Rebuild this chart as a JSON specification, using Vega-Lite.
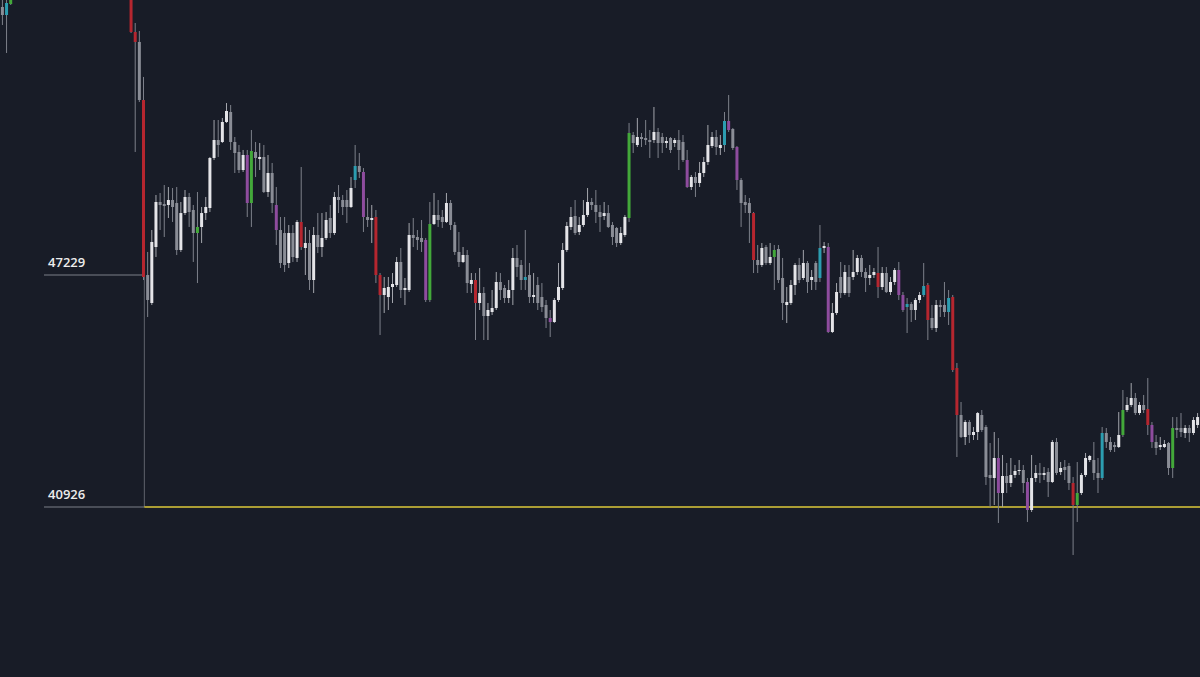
{
"$schema":"https://vega.github.io/schema/vega-lite/v6.json",
"width":1200,"height":677,"autosize":{"type":"fit","contains":"padding"},"padding":0,
"background":"#181c27",
"config":{"view":{"stroke":null}},
"datasets":{
"candles":[
{"i":1,"o":54511,"h":54750,"l":54022,"c":54293,"k":"g"},
{"i":2,"o":54293,"h":54760,"l":53261,"c":54619,"k":"t"},
{"i":3,"o":54592,"h":54900,"l":54565,"c":54840,"k":"gr"},
{"i":32,"o":55110,"h":55250,"l":53804,"c":53832,"k":"r"},
{"i":33,"o":53832,"h":54076,"l":50572,"c":53561,"k":"r"},
{"i":34,"o":53561,"h":53859,"l":51930,"c":51984,"k":"g"},
{"i":35,"o":51984,"h":52610,"l":47093,"c":47175,"k":"r"},
{"i":36,"o":47229,"h":47855,"l":46088,"c":46550,"k":"g"},
{"i":37,"o":46468,"h":48452,"l":46414,"c":48126,"k":"w"},
{"i":38,"o":47990,"h":49403,"l":47719,"c":49213,"k":"w"},
{"i":39,"o":49213,"h":49457,"l":48452,"c":49131,"k":"g"},
{"i":40,"o":49158,"h":49674,"l":48262,"c":49104,"k":"g"},
{"i":41,"o":49131,"h":49620,"l":48778,"c":49267,"k":"w"},
{"i":42,"o":49267,"h":49593,"l":48670,"c":49077,"k":"g"},
{"i":43,"o":49185,"h":49620,"l":47773,"c":47909,"k":"g"},
{"i":44,"o":47909,"h":49213,"l":47855,"c":48913,"k":"w"},
{"i":45,"o":48913,"h":49539,"l":48859,"c":49349,"k":"w"},
{"i":46,"o":49349,"h":49457,"l":48534,"c":48940,"k":"g"},
{"i":47,"o":48995,"h":49131,"l":47583,"c":48370,"k":"g"},
{"i":48,"o":48370,"h":49484,"l":47011,"c":48534,"k":"gr"},
{"i":49,"o":48534,"h":49077,"l":48098,"c":48913,"k":"w"},
{"i":50,"o":48913,"h":49349,"l":48724,"c":49077,"k":"w"},
{"i":51,"o":49050,"h":50436,"l":48940,"c":50409,"k":"w"},
{"i":52,"o":50409,"h":51441,"l":50354,"c":50897,"k":"w"},
{"i":53,"o":50897,"h":51441,"l":50436,"c":50761,"k":"g"},
{"i":54,"o":50843,"h":51495,"l":50815,"c":51387,"k":"w"},
{"i":55,"o":51387,"h":51902,"l":51360,"c":51685,"k":"w"},
{"i":56,"o":51658,"h":51848,"l":50626,"c":50843,"k":"g"},
{"i":57,"o":50843,"h":50979,"l":50000,"c":50544,"k":"g"},
{"i":58,"o":50572,"h":50761,"l":50000,"c":50082,"k":"g"},
{"i":59,"o":50082,"h":50626,"l":50028,"c":50490,"k":"w"},
{"i":60,"o":50490,"h":50626,"l":48805,"c":49185,"k":"p"},
{"i":61,"o":49185,"h":51169,"l":48534,"c":50599,"k":"gr"},
{"i":62,"o":50572,"h":50843,"l":49892,"c":50409,"k":"g"},
{"i":63,"o":50381,"h":50815,"l":50082,"c":50436,"k":"w"},
{"i":64,"o":50436,"h":50761,"l":49457,"c":49484,"k":"g"},
{"i":65,"o":49484,"h":50490,"l":49349,"c":50000,"k":"w"},
{"i":66,"o":50000,"h":50273,"l":48913,"c":49185,"k":"g"},
{"i":67,"o":49131,"h":49620,"l":48044,"c":48452,"k":"p"},
{"i":68,"o":48452,"h":48805,"l":47419,"c":47555,"k":"g"},
{"i":69,"o":48370,"h":48805,"l":47311,"c":47501,"k":"g"},
{"i":70,"o":47555,"h":48588,"l":47419,"c":48370,"k":"w"},
{"i":71,"o":48370,"h":48588,"l":47583,"c":47719,"k":"g"},
{"i":72,"o":47692,"h":48724,"l":47583,"c":48670,"k":"w"},
{"i":73,"o":48670,"h":50163,"l":47909,"c":47990,"k":"r"},
{"i":74,"o":47963,"h":48534,"l":47229,"c":48098,"k":"w"},
{"i":75,"o":48098,"h":48452,"l":46822,"c":47093,"k":"g"},
{"i":76,"o":47093,"h":48534,"l":46740,"c":48316,"k":"w"},
{"i":77,"o":48316,"h":48913,"l":47827,"c":47990,"k":"g"},
{"i":78,"o":47990,"h":48913,"l":47719,"c":48235,"k":"w"},
{"i":79,"o":48235,"h":48940,"l":48180,"c":48724,"k":"w"},
{"i":80,"o":48778,"h":49131,"l":48235,"c":48370,"k":"g"},
{"i":81,"o":48370,"h":49484,"l":48316,"c":49349,"k":"w"},
{"i":82,"o":49349,"h":49674,"l":48913,"c":49267,"k":"g"},
{"i":83,"o":49267,"h":49403,"l":48859,"c":49077,"k":"g"},
{"i":84,"o":49267,"h":49539,"l":48642,"c":49077,"k":"g"},
{"i":85,"o":49077,"h":49892,"l":49050,"c":49593,"k":"w"},
{"i":86,"o":49810,"h":50761,"l":49593,"c":50191,"k":"t"},
{"i":87,"o":50191,"h":50544,"l":49865,"c":50028,"k":"g"},
{"i":88,"o":50028,"h":50136,"l":48398,"c":48805,"k":"p"},
{"i":89,"o":48805,"h":49321,"l":48534,"c":48724,"k":"g"},
{"i":90,"o":48724,"h":49131,"l":48098,"c":48778,"k":"w"},
{"i":91,"o":48805,"h":48995,"l":47011,"c":47229,"k":"r"},
{"i":92,"o":47229,"h":47283,"l":45599,"c":46686,"k":"r"},
{"i":93,"o":46686,"h":47175,"l":46197,"c":46876,"k":"w"},
{"i":94,"o":46631,"h":47175,"l":46278,"c":46903,"k":"w"},
{"i":95,"o":46903,"h":47283,"l":46468,"c":46985,"k":"w"},
{"i":96,"o":46958,"h":47719,"l":46903,"c":47583,"k":"w"},
{"i":97,"o":47583,"h":47963,"l":46604,"c":46822,"k":"g"},
{"i":98,"o":46822,"h":47148,"l":46414,"c":46876,"k":"w"},
{"i":99,"o":46822,"h":48642,"l":46767,"c":48316,"k":"w"},
{"i":100,"o":48316,"h":48778,"l":47990,"c":48235,"k":"g"},
{"i":101,"o":48262,"h":48452,"l":47909,"c":48180,"k":"g"},
{"i":102,"o":48235,"h":48724,"l":47855,"c":48126,"k":"g"},
{"i":103,"o":48180,"h":48235,"l":46495,"c":46550,"k":"p"},
{"i":104,"o":46550,"h":49213,"l":46495,"c":48615,"k":"gr"},
{"i":105,"o":48615,"h":49457,"l":48588,"c":48859,"k":"w"},
{"i":106,"o":48859,"h":49267,"l":48534,"c":48724,"k":"g"},
{"i":107,"o":48805,"h":48995,"l":48507,"c":48670,"k":"g"},
{"i":108,"o":48670,"h":49457,"l":48642,"c":49185,"k":"w"},
{"i":109,"o":49185,"h":49267,"l":48452,"c":48588,"k":"g"},
{"i":110,"o":48588,"h":48670,"l":47773,"c":47855,"k":"g"},
{"i":111,"o":47855,"h":48398,"l":47447,"c":47583,"k":"g"},
{"i":112,"o":47583,"h":47990,"l":47555,"c":47773,"k":"w"},
{"i":113,"o":47773,"h":47909,"l":46740,"c":47011,"k":"g"},
{"i":114,"o":46985,"h":47283,"l":46740,"c":47093,"k":"w"},
{"i":115,"o":47093,"h":47283,"l":45463,"c":46468,"k":"r"},
{"i":116,"o":46468,"h":47419,"l":46278,"c":46740,"k":"w"},
{"i":117,"o":46740,"h":46903,"l":45463,"c":46115,"k":"g"},
{"i":118,"o":46115,"h":46468,"l":45463,"c":46278,"k":"w"},
{"i":119,"o":46224,"h":46822,"l":46143,"c":46332,"k":"w"},
{"i":120,"o":46332,"h":47311,"l":46278,"c":47039,"k":"w"},
{"i":121,"o":47039,"h":47283,"l":46550,"c":46822,"k":"g"},
{"i":122,"o":46876,"h":46958,"l":46468,"c":46604,"k":"g"},
{"i":123,"o":46604,"h":47093,"l":46468,"c":46822,"k":"w"},
{"i":124,"o":46822,"h":47963,"l":46414,"c":47692,"k":"w"},
{"i":125,"o":47692,"h":48044,"l":47175,"c":47447,"k":"g"},
{"i":126,"o":47501,"h":47637,"l":46822,"c":47093,"k":"g"},
{"i":127,"o":47093,"h":48452,"l":46822,"c":47175,"k":"t"},
{"i":128,"o":47229,"h":47555,"l":46468,"c":46631,"k":"g"},
{"i":129,"o":46631,"h":47283,"l":46468,"c":46686,"k":"w"},
{"i":130,"o":46958,"h":47175,"l":46278,"c":46468,"k":"g"},
{"i":131,"o":46631,"h":47011,"l":46224,"c":46360,"k":"g"},
{"i":132,"o":46414,"h":46550,"l":45789,"c":46061,"k":"g"},
{"i":133,"o":46061,"h":46278,"l":45545,"c":45952,"k":"p"},
{"i":134,"o":45952,"h":46604,"l":45925,"c":46550,"k":"w"},
{"i":135,"o":46550,"h":47555,"l":46495,"c":46903,"k":"w"},
{"i":136,"o":46876,"h":48098,"l":46822,"c":47909,"k":"w"},
{"i":137,"o":47909,"h":48670,"l":47855,"c":48561,"k":"w"},
{"i":138,"o":48534,"h":49077,"l":48452,"c":48805,"k":"w"},
{"i":139,"o":48832,"h":49267,"l":48316,"c":48370,"k":"g"},
{"i":140,"o":48398,"h":48805,"l":48316,"c":48588,"k":"w"},
{"i":141,"o":48588,"h":49267,"l":48534,"c":48859,"k":"w"},
{"i":142,"o":48859,"h":49593,"l":48805,"c":49213,"k":"w"},
{"i":143,"o":49213,"h":49321,"l":48995,"c":49131,"k":"g"},
{"i":144,"o":49131,"h":49539,"l":48642,"c":48940,"k":"g"},
{"i":145,"o":48940,"h":49131,"l":48398,"c":48805,"k":"g"},
{"i":146,"o":48832,"h":49213,"l":48724,"c":48913,"k":"w"},
{"i":147,"o":48913,"h":49131,"l":48507,"c":48534,"k":"g"},
{"i":148,"o":48588,"h":48670,"l":48044,"c":48262,"k":"g"},
{"i":149,"o":48507,"h":48534,"l":47990,"c":48098,"k":"g"},
{"i":150,"o":48098,"h":48534,"l":48044,"c":48370,"k":"w"},
{"i":151,"o":48316,"h":48859,"l":48262,"c":48805,"k":"w"},
{"i":152,"o":48778,"h":51360,"l":48670,"c":51087,"k":"gr"},
{"i":153,"o":51033,"h":51115,"l":50544,"c":50815,"k":"g"},
{"i":154,"o":50761,"h":51495,"l":50707,"c":50979,"k":"w"},
{"i":155,"o":50979,"h":51087,"l":50707,"c":50924,"k":"g"},
{"i":156,"o":50951,"h":51441,"l":50761,"c":50897,"k":"g"},
{"i":157,"o":50897,"h":51169,"l":50409,"c":50843,"k":"g"},
{"i":158,"o":50897,"h":51794,"l":50815,"c":51115,"k":"w"},
{"i":159,"o":51115,"h":51224,"l":50409,"c":50815,"k":"g"},
{"i":160,"o":50979,"h":51087,"l":50544,"c":50815,"k":"g"},
{"i":161,"o":50815,"h":50979,"l":50680,"c":50870,"k":"w"},
{"i":162,"o":50951,"h":50979,"l":50544,"c":50626,"k":"g"},
{"i":163,"o":50815,"h":50951,"l":50707,"c":50897,"k":"w"},
{"i":164,"o":50897,"h":51169,"l":50082,"c":50626,"k":"g"},
{"i":165,"o":50843,"h":51033,"l":50300,"c":50354,"k":"g"},
{"i":166,"o":50354,"h":50626,"l":49593,"c":49620,"k":"p"},
{"i":167,"o":49620,"h":49946,"l":49539,"c":49892,"k":"w"},
{"i":168,"o":49892,"h":50028,"l":49349,"c":49729,"k":"g"},
{"i":169,"o":49729,"h":50300,"l":49620,"c":50000,"k":"w"},
{"i":170,"o":50000,"h":50436,"l":49892,"c":50300,"k":"w"},
{"i":171,"o":50300,"h":51305,"l":50218,"c":50761,"k":"w"},
{"i":172,"o":50734,"h":51115,"l":50680,"c":50979,"k":"w"},
{"i":173,"o":50979,"h":51169,"l":50490,"c":50707,"k":"g"},
{"i":174,"o":50680,"h":51033,"l":50490,"c":50761,"k":"w"},
{"i":175,"o":50761,"h":51658,"l":50572,"c":51414,"k":"t"},
{"i":176,"o":51414,"h":52120,"l":51115,"c":51169,"k":"p"},
{"i":177,"o":51196,"h":51224,"l":50626,"c":50680,"k":"g"},
{"i":178,"o":50707,"h":50734,"l":49539,"c":49810,"k":"p"},
{"i":179,"o":49810,"h":49865,"l":48534,"c":49185,"k":"g"},
{"i":180,"o":49213,"h":49403,"l":48913,"c":49131,"k":"g"},
{"i":181,"o":49185,"h":49321,"l":48098,"c":48913,"k":"g"},
{"i":182,"o":48913,"h":48940,"l":47283,"c":47637,"k":"r"},
{"i":183,"o":47637,"h":48044,"l":47283,"c":47501,"k":"g"},
{"i":184,"o":47501,"h":48098,"l":47447,"c":47963,"k":"w"},
{"i":185,"o":47990,"h":48044,"l":47501,"c":47555,"k":"g"},
{"i":186,"o":47555,"h":48098,"l":47501,"c":47719,"k":"w"},
{"i":187,"o":47719,"h":48044,"l":46822,"c":47909,"k":"gr"},
{"i":188,"o":47936,"h":48044,"l":47011,"c":47093,"k":"g"},
{"i":189,"o":47148,"h":47692,"l":46007,"c":46468,"k":"g"},
{"i":190,"o":46414,"h":46903,"l":45925,"c":46495,"k":"w"},
{"i":191,"o":46468,"h":47093,"l":46414,"c":46958,"k":"w"},
{"i":192,"o":46958,"h":47555,"l":46686,"c":47501,"k":"w"},
{"i":193,"o":47501,"h":47692,"l":47011,"c":47093,"k":"g"},
{"i":194,"o":47148,"h":47909,"l":47093,"c":47555,"k":"w"},
{"i":195,"o":47555,"h":47610,"l":46740,"c":47039,"k":"g"},
{"i":196,"o":47093,"h":47365,"l":46822,"c":47175,"k":"w"},
{"i":197,"o":47555,"h":47610,"l":46822,"c":47039,"k":"g"},
{"i":198,"o":47148,"h":48588,"l":47039,"c":47963,"k":"t"},
{"i":199,"o":47963,"h":48126,"l":47827,"c":48017,"k":"w"},
{"i":200,"o":47990,"h":48098,"l":45653,"c":45680,"k":"p"},
{"i":201,"o":45680,"h":46468,"l":45653,"c":46197,"k":"w"},
{"i":202,"o":46197,"h":47011,"l":46143,"c":46767,"k":"w"},
{"i":203,"o":47175,"h":47583,"l":46604,"c":46740,"k":"g"},
{"i":204,"o":46740,"h":47501,"l":46686,"c":47311,"k":"w"},
{"i":205,"o":47175,"h":47501,"l":46631,"c":46740,"k":"g"},
{"i":206,"o":47175,"h":47909,"l":47093,"c":47311,"k":"w"},
{"i":207,"o":47311,"h":47773,"l":47229,"c":47692,"k":"w"},
{"i":208,"o":47692,"h":47773,"l":47175,"c":47311,"k":"g"},
{"i":209,"o":47311,"h":47419,"l":46767,"c":47148,"k":"g"},
{"i":210,"o":47148,"h":47501,"l":46958,"c":47229,"k":"w"},
{"i":211,"o":47229,"h":47419,"l":47148,"c":47311,"k":"w"},
{"i":212,"o":47283,"h":47990,"l":46604,"c":46903,"k":"r"},
{"i":213,"o":46903,"h":47447,"l":46822,"c":47283,"k":"w"},
{"i":214,"o":47283,"h":47447,"l":46740,"c":46767,"k":"g"},
{"i":215,"o":46767,"h":47175,"l":46686,"c":47039,"k":"w"},
{"i":216,"o":47039,"h":47419,"l":46958,"c":47365,"k":"w"},
{"i":217,"o":47365,"h":47583,"l":46550,"c":46686,"k":"p"},
{"i":218,"o":46686,"h":46767,"l":46224,"c":46278,"k":"p"},
{"i":219,"o":46360,"h":46604,"l":45653,"c":46441,"k":"t"},
{"i":220,"o":46441,"h":46495,"l":45952,"c":46278,"k":"g"},
{"i":221,"o":46278,"h":46604,"l":46007,"c":46550,"k":"w"},
{"i":222,"o":46550,"h":46767,"l":46468,"c":46686,"k":"w"},
{"i":223,"o":46686,"h":47555,"l":46631,"c":46930,"k":"t"},
{"i":224,"o":46958,"h":47011,"l":45463,"c":46007,"k":"r"},
{"i":225,"o":46061,"h":46414,"l":45735,"c":45789,"k":"g"},
{"i":226,"o":45789,"h":46550,"l":45680,"c":46414,"k":"w"},
{"i":227,"o":46414,"h":46550,"l":46088,"c":46360,"k":"g"},
{"i":228,"o":46414,"h":47039,"l":46088,"c":46224,"k":"g"},
{"i":229,"o":46224,"h":46822,"l":45871,"c":46604,"k":"t"},
{"i":230,"o":46631,"h":46686,"l":44593,"c":44648,"k":"r"},
{"i":231,"o":44702,"h":44838,"l":42284,"c":43425,"k":"r"},
{"i":232,"o":43425,"h":43779,"l":42800,"c":42827,"k":"g"},
{"i":233,"o":42827,"h":43290,"l":42610,"c":43235,"k":"w"},
{"i":234,"o":43235,"h":43290,"l":42665,"c":42882,"k":"g"},
{"i":235,"o":42882,"h":43099,"l":42746,"c":42963,"k":"w"},
{"i":236,"o":42963,"h":43506,"l":42746,"c":43479,"k":"w"},
{"i":237,"o":43425,"h":43561,"l":42963,"c":43018,"k":"g"},
{"i":238,"o":43099,"h":43154,"l":41524,"c":41741,"k":"g"},
{"i":239,"o":41795,"h":42665,"l":40926,"c":41714,"k":"g"},
{"i":240,"o":41714,"h":42963,"l":40980,"c":42257,"k":"w"},
{"i":241,"o":42257,"h":42800,"l":40492,"c":41306,"k":"p"},
{"i":242,"o":41306,"h":42339,"l":40926,"c":41768,"k":"w"},
{"i":243,"o":41768,"h":42121,"l":41306,"c":41578,"k":"g"},
{"i":244,"o":41578,"h":42257,"l":41469,"c":41795,"k":"w"},
{"i":245,"o":41795,"h":42067,"l":41714,"c":41904,"k":"w"},
{"i":246,"o":41904,"h":42203,"l":41795,"c":41931,"k":"w"},
{"i":247,"o":41931,"h":42067,"l":41306,"c":41578,"k":"g"},
{"i":248,"o":41605,"h":41714,"l":40519,"c":40844,"k":"p"},
{"i":249,"o":40844,"h":42339,"l":40790,"c":41714,"k":"w"},
{"i":250,"o":41714,"h":42067,"l":41605,"c":41850,"k":"w"},
{"i":251,"o":41850,"h":42121,"l":41578,"c":41795,"k":"g"},
{"i":252,"o":41795,"h":42012,"l":41659,"c":41850,"k":"w"},
{"i":253,"o":41877,"h":41985,"l":41198,"c":41605,"k":"g"},
{"i":254,"o":41605,"h":42746,"l":41578,"c":42692,"k":"w"},
{"i":255,"o":42692,"h":42800,"l":41795,"c":41850,"k":"g"},
{"i":256,"o":41877,"h":42148,"l":41795,"c":41985,"k":"w"},
{"i":257,"o":42012,"h":42203,"l":41659,"c":41931,"k":"g"},
{"i":258,"o":42040,"h":42121,"l":41388,"c":41578,"k":"g"},
{"i":259,"o":41578,"h":41741,"l":39622,"c":40980,"k":"r"},
{"i":260,"o":40980,"h":42148,"l":40519,"c":41306,"k":"gr"},
{"i":261,"o":41306,"h":41850,"l":41252,"c":41795,"k":"w"},
{"i":262,"o":41795,"h":42393,"l":41741,"c":42257,"k":"w"},
{"i":263,"o":42203,"h":42339,"l":42148,"c":42312,"k":"w"},
{"i":264,"o":42203,"h":42692,"l":41659,"c":41850,"k":"g"},
{"i":265,"o":41850,"h":42257,"l":41306,"c":41714,"k":"g"},
{"i":266,"o":41714,"h":43099,"l":41659,"c":42936,"k":"t"},
{"i":267,"o":42936,"h":43072,"l":42529,"c":42692,"k":"g"},
{"i":268,"o":42692,"h":42827,"l":42420,"c":42475,"k":"g"},
{"i":269,"o":42610,"h":42692,"l":42420,"c":42556,"k":"g"},
{"i":270,"o":42556,"h":43506,"l":42529,"c":42882,"k":"w"},
{"i":271,"o":42882,"h":44105,"l":42827,"c":43561,"k":"gr"},
{"i":272,"o":43561,"h":43914,"l":43506,"c":43697,"k":"w"},
{"i":273,"o":43697,"h":44294,"l":43642,"c":43887,"k":"w"},
{"i":274,"o":43887,"h":44023,"l":43425,"c":43479,"k":"g"},
{"i":275,"o":43479,"h":43779,"l":43425,"c":43697,"k":"w"},
{"i":276,"o":43697,"h":43969,"l":43479,"c":43561,"k":"g"},
{"i":277,"o":43588,"h":44430,"l":42882,"c":43154,"k":"r"},
{"i":278,"o":43154,"h":43235,"l":42529,"c":42692,"k":"p"},
{"i":279,"o":42692,"h":42882,"l":42339,"c":42529,"k":"g"},
{"i":280,"o":42556,"h":42827,"l":42475,"c":42610,"k":"w"},
{"i":281,"o":42556,"h":42746,"l":42529,"c":42637,"k":"w"},
{"i":282,"o":42665,"h":42692,"l":41795,"c":41985,"k":"g"},
{"i":283,"o":41985,"h":43370,"l":41714,"c":43072,"k":"gr"},
{"i":284,"o":43072,"h":43370,"l":42800,"c":43018,"k":"g"},
{"i":285,"o":43072,"h":43479,"l":42827,"c":42963,"k":"g"},
{"i":286,"o":42936,"h":43154,"l":42800,"c":43072,"k":"w"},
{"i":287,"o":43072,"h":43154,"l":42692,"c":42936,"k":"g"},
{"i":288,"o":42936,"h":43370,"l":42882,"c":43290,"k":"w"},
{"i":289,"o":43154,"h":43479,"l":43072,"c":43370,"k":"w"}
],
"lines":[
{"kind":"ref","x0":11.02,"x1":35.2,"p0":47229,"p1":47229},
{"kind":"ref","x0":11.02,"x1":35.2,"p0":40926,"p1":40926},
{"kind":"vert","x0":35.2,"x1":35.2,"p0":47229,"p1":40926},
{"kind":"level","x0":35.2,"x1":289.6,"p0":40926,"p1":40926}
],
"labels":[
{"i":12.0,"p":47229,"t":"47229"},
{"i":12.0,"p":40926,"t":"40926"}
]
},
"layer":[
{"data":{"name":"lines"},"transform":[{"filter":"datum.kind == 'ref'"}],
 "mark":{"type":"rule","color":"#5a5e69","strokeWidth":1.6,"clip":true},
 "encoding":{"x":{"field":"x0","type":"quantitative","scale":{"domain":[0.42,289.58],"nice":false,"zero":false,"padding":0},"axis":null},"x2":{"field":"x1"},
 "y":{"field":"p0","type":"quantitative","scale":{"domain":[36307,54701],"nice":false,"zero":false,"padding":0},"axis":null},"y2":{"field":"p1"}}},
{"data":{"name":"lines"},"transform":[{"filter":"datum.kind == 'vert'"}],
 "mark":{"type":"rule","color":"#5f636d","strokeWidth":1,"clip":true},
 "encoding":{"x":{"field":"x0","type":"quantitative"},"x2":{"field":"x1"},"y":{"field":"p0","type":"quantitative"},"y2":{"field":"p1"}}},
{"data":{"name":"lines"},"transform":[{"filter":"datum.kind == 'level'"}],
 "mark":{"type":"rule","color":"#dcc83a","strokeWidth":1.3,"clip":true},
 "encoding":{"x":{"field":"x0","type":"quantitative"},"x2":{"field":"x1"},"y":{"field":"p0","type":"quantitative"},"y2":{"field":"p1"}}},
{"data":{"name":"candles"},
 "mark":{"type":"rule","strokeWidth":1,"clip":true},
 "encoding":{"x":{"field":"i","type":"quantitative"},"y":{"field":"l","type":"quantitative"},"y2":{"field":"h"},
 "color":{"field":"k","type":"nominal","scale":{"domain":["w","g","r","gr","p","t"],"range":["#a3a5ac","#7d808a","#7d808a","#7d808a","#7d808a","#7d808a"]},"legend":null}}},
{"data":{"name":"candles"},
 "mark":{"type":"bar","size":3,"orient":"vertical","clip":true},
 "encoding":{"x":{"field":"i","type":"quantitative"},"y":{"field":"o","type":"quantitative"},"y2":{"field":"c"},
 "color":{"field":"k","type":"nominal","scale":{"domain":["w","g","r","gr","p","t"],"range":["#e4e4e8","#8a8d96","#b5262f","#43a83a","#8e4c9e","#2c9db0"]},"legend":null}}},
{"data":{"name":"labels"},
 "mark":{"type":"text","align":"left","baseline":"alphabetic","dy":-8,"fontSize":13,"fontWeight":600,"font":"Open Sans","color":"#ececec"},
 "encoding":{"x":{"field":"i","type":"quantitative"},"y":{"field":"p","type":"quantitative"},"text":{"field":"t"}}}
],
"resolve":{"scale":{"color":"independent"}}
}
